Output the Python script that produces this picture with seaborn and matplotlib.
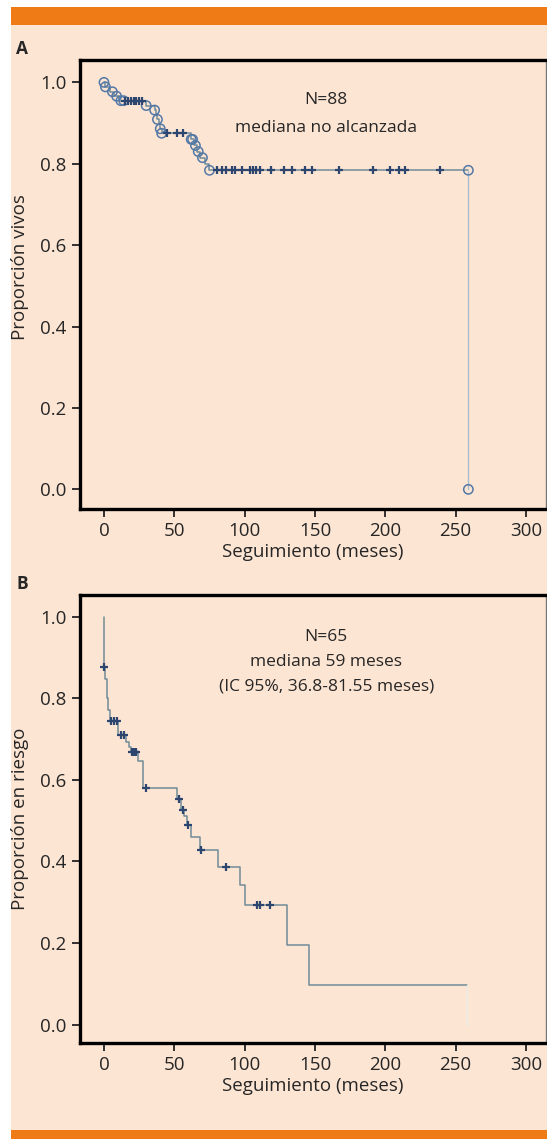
import numpy as np
import pandas as pd
import seaborn as sns
import matplotlib.pyplot as plt
from matplotlib.patches import Rectangle

# Panel A: overall survival, N=88 (event times in months, survival after each step)
time_a = [0, 1, 4, 7, 11, 30, 36, 37, 38, 39, 40, 41, 62, 64, 66, 68, 72, 75, 259]
surv_a = [1.0, 0.989, 0.977, 0.966, 0.955, 0.943, 0.932, 0.920, 0.909, 0.898,
          0.886, 0.875, 0.860, 0.845, 0.830, 0.815, 0.800, 0.784, 0.0]
circ_a = [0, 1, 6, 9, 12, 14, 30, 36, 38, 40, 41, 62, 63, 65, 67, 70, 75, 259, 259]
cens_a = [15, 17, 19, 21, 23, 25, 27, 45, 52, 56, 80, 84, 87, 91, 93, 98, 104, 106,
          108, 111, 119, 128, 134, 143, 148, 167, 191, 203, 210, 214, 239]

# Panel B: risk curve, N=65
time_b = [0, 0, 1, 2, 3, 4, 10, 16, 18, 19, 24, 28, 52, 55, 57, 59, 62, 68, 81,
          97, 100, 130, 146]
surv_b = [1.0, 0.877, 0.846, 0.800, 0.770, 0.745, 0.710, 0.693, 0.680, 0.668,
          0.645, 0.580, 0.553, 0.527, 0.510, 0.490, 0.460, 0.428, 0.386, 0.342,
          0.293, 0.195, 0.097]
end_b = 258
cens_b = [0, 5, 7, 9, 12, 14, 20, 21, 22, 23, 30, 53, 56, 60, 69, 87, 109, 111, 118]

x_ticks = [0, 50, 100, 150, 200, 250, 300]
y_ticks = [0.0, 0.2, 0.4, 0.6, 0.8, 1.0]

peach = '#fde5d3'
orange = '#ef7b17'
line_col = '#6f8c98'
mark_col = '#2d4670'


def level(times, surv, t):
    # survival level of the step curve at time t (right-continuous)
    idx = np.searchsorted(np.asarray(times), t, side='right') - 1
    return np.asarray(surv)[max(idx, 0)]


sns.set_style('ticks')
plt.rcParams['font.family'] = ['Open Sans', 'DejaVu Sans']

fig = plt.figure(figsize=(5.47, 11.39), dpi=100)
fig.patch.set_facecolor('white')
fig.patches.append(Rectangle((11 / 547, 0), 1, 1 - 6.7 / 1139, transform=fig.transFigure,
                             facecolor=peach, edgecolor='none', zorder=-10))
fig.patches.append(Rectangle((11 / 547, 1 - 25 / 1139), 1, 18.3 / 1139, transform=fig.transFigure,
                             facecolor=orange, edgecolor='none', zorder=-9))
fig.patches.append(Rectangle((11 / 547, 0), 1, 9 / 1139, transform=fig.transFigure,
                             facecolor=orange, edgecolor='none', zorder=-9))

ax_a = fig.add_axes([79.5 / 547, 1 - 509.3 / 1139, 466.5 / 547, 449.3 / 1139])
ax_b = fig.add_axes([79.5 / 547, 1 - 1043.3 / 1139, 466.5 / 547, 448.3 / 1139])

# ---- panel A ----
df_a = pd.DataFrame({'t': time_a[:-1] + [time_a[-1]], 's': surv_a[:-1] + [surv_a[-2]]})
sns.lineplot(data=df_a, x='t', y='s', ax=ax_a, estimator=None, sort=False,
             drawstyle='steps-post', color=line_col, lw=1.1)
sns.lineplot(x=[time_a[-1], time_a[-1]], y=[surv_a[-2], surv_a[-1]], ax=ax_a,
             estimator=None, sort=False, color='#a9bccb', lw=1.0)
circ_y = [level(time_a, surv_a, t) for t in circ_a[:-2]] + [surv_a[-2], surv_a[-1]]
sns.scatterplot(x=circ_a, y=circ_y, ax=ax_a, marker='o', s=45, facecolor='none',
                edgecolor='#5579a6', linewidth=1.1, zorder=4)
sns.scatterplot(x=cens_a, y=[level(time_a, surv_a, t) for t in cens_a], ax=ax_a,
                marker='+', s=40, color=mark_col, linewidth=1.6, zorder=5)
ax_a.text(158, 0.957, 'N=88', ha='center', va='center', fontsize=12.5)
ax_a.text(158, 0.888, 'mediana no alcanzada', ha='center', va='center', fontsize=12.5)
ax_a.set_ylabel('Proporción vivos', fontsize=13.5)
ax_a.yaxis.set_label_coords(-0.108, 0.54)
ax_a.set_ylim(-0.049, 1.055)

# ---- panel B ----
df_b = pd.DataFrame({'t': time_b + [end_b], 's': surv_b + [surv_b[-1]]})
sns.lineplot(data=df_b, x='t', y='s', ax=ax_b, estimator=None, sort=False,
             drawstyle='steps-post', color=line_col, lw=1.1)
sns.lineplot(x=[end_b, end_b], y=[surv_b[-1], 0.0], ax=ax_b,
             estimator=None, sort=False, color='#e8ede8', lw=1.0)
sns.scatterplot(x=cens_b, y=[level(time_b, surv_b, t) for t in cens_b], ax=ax_b,
                marker='+', s=40, color=mark_col, linewidth=1.6, zorder=5)
ax_b.text(158, 0.950, 'N=65', ha='center', va='center', fontsize=12.5)
ax_b.text(158, 0.889, 'mediana 59 meses', ha='center', va='center', fontsize=12.5)
ax_b.text(158, 0.828, '(IC 95%, 36.8-81.55 meses)', ha='center', va='center', fontsize=12.5)
ax_b.set_ylabel('Proporción en riesgo', fontsize=13.5)
ax_b.yaxis.set_label_coords(-0.108, 0.5)
ax_b.set_ylim(-0.046, 1.053)

for ax, lab in [(ax_a, 'A'), (ax_b, 'B')]:
    ax.set_facecolor(peach)
    ax.set_xlim(-17.4, 314.2)
    ax.set_xticks(x_ticks)
    ax.set_yticks(y_ticks)
    ax.set_yticklabels([f'{v:.1f}' for v in y_ticks])
    ax.set_xlabel('Seguimiento (meses)', fontsize=13.5, labelpad=2)
    ax.tick_params(labelsize=13.5, length=6, width=1.3, color='#222222')
    for side in ['left', 'top', 'bottom']:
        ax.spines[side].set_visible(True)
        ax.spines[side].set_linewidth(2.4)
        ax.spines[side].set_color('black')
    ax.spines['right'].set_visible(True)
    ax.spines['right'].set_linewidth(1.0)
    ax.spines['right'].set_color('#777777')
    ax.text(-0.136, 1.005, lab, transform=ax.transAxes, fontsize=12.5,
            fontweight='bold', ha='left', va='bottom')

fig.savefig('out.png', dpi=100, facecolor=fig.get_facecolor())
